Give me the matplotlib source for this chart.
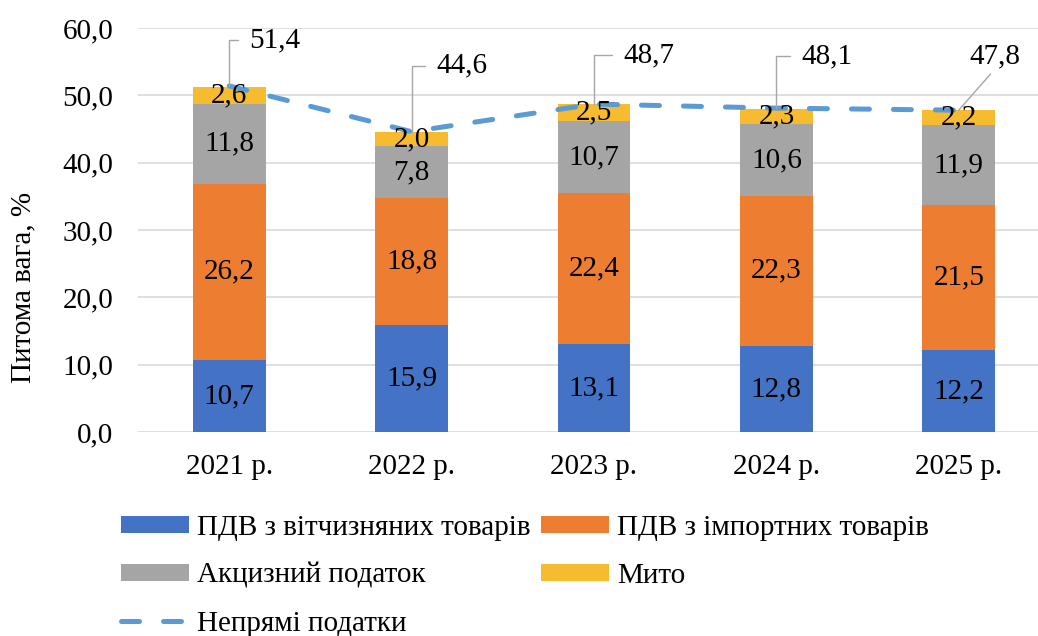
import matplotlib
matplotlib.use('Agg')
import matplotlib.pyplot as plt
from matplotlib.font_manager import FontProperties
import numpy as np

FONT = 'Liberation Serif'

years = ['2021 р.', '2022 р.', '2023 р.', '2024 р.', '2025 р.']
vat_domestic = [10.7, 15.9, 13.1, 12.8, 12.2]
vat_import = [26.2, 18.8, 22.4, 22.3, 21.5]
excise = [11.8, 7.8, 10.7, 10.6, 11.9]
duty = [2.6, 2.0, 2.5, 2.3, 2.2]
indirect = [51.4, 44.6, 48.7, 48.1, 47.8]

series_names = ['ПДВ з вітчизняних товарів', 'ПДВ з імпортних товарів',
                'Акцизний податок', 'Мито']
line_name = 'Непрямі податки'
colors = ['#4472C4', '#ED7D31', '#A5A5A5', '#F6BB2E']
line_color = '#5B9BD5'

# label offsets (pixels) for the total line labels
label_offsets = [(20, -46), (25, -66), (29, -49), (25, -52), (36, -54)]

fs = 21
fp = FontProperties(family=FONT, size=fs)


def fmt(v):
    return f'{v:.1f}'.replace('.', ',')


fig = plt.figure(figsize=(10.38, 6.36), dpi=100)
ax = fig.add_axes([138 / 1038, 1 - 432 / 636, (1050 - 138) / 1038, (432 - 28) / 636])

x = np.arange(len(years))
bottom = np.zeros(len(years))
bars = []
for vals, name, c in zip([vat_domestic, vat_import, excise, duty], series_names, colors):
    b = ax.bar(x, vals, width=0.4, bottom=bottom, color=c, label=name, zorder=2)
    bars.append(b)
    for xi, bi, v in zip(x, bottom, vals):
        ax.text(xi, bi + v / 2, fmt(v), ha='center', va='center',
                fontproperties=fp, zorder=5)
    bottom = bottom + np.array(vals)

line, = ax.plot(x, indirect, color=line_color, lw=3.6, dashes=(3.6, 4.8),
                dash_capstyle='round', label=line_name, zorder=4)

for i, (xi, v) in enumerate(zip(x, indirect)):
    dx, dy = label_offsets[i]
    if i == len(x) - 1:
        ax.annotate(fmt(v), xy=(xi, v), xytext=(dx, -dy), textcoords='offset pixels',
                    ha='center', va='center', fontproperties=fp, zorder=6,
                    arrowprops=dict(arrowstyle='-', color='#A6A6A6', lw=1,
                                    relpos=(0.5, 0), shrinkA=2, shrinkB=0))
    else:
        ax.annotate(fmt(v), xy=(xi, v), xytext=(dx, -dy), textcoords='offset pixels',
                    ha='left', va='center', fontproperties=fp, zorder=6,
                    arrowprops=dict(arrowstyle='-', color='#A6A6A6', lw=1,
                                    connectionstyle='angle,angleA=180,angleB=90,rad=0',
                                    relpos=(0, 0.5), shrinkA=6, shrinkB=0))

ax.set_xlim(-0.5, len(years) - 0.5)
ax.set_ylim(0, 60)
yt = np.arange(0, 61, 10)
ax.set_yticks(yt)
ax.set_yticklabels([fmt(t) for t in yt], fontproperties=fp)
ax.set_xticks(x)
ax.set_xticklabels(years, fontproperties=fp)
ax.tick_params(axis='both', length=0)
ax.tick_params(axis='y', pad=18)
ax.tick_params(axis='x', pad=16)
ax.grid(axis='y', color='#D9D9D9', lw=1.2, zorder=0)
ax.set_axisbelow(True)
for s in ax.spines.values():
    s.set_visible(False)

fig.text(23 / 1038, 1 - 287 / 636, 'Питома вага, %', rotation=90,
         ha='center', va='center', fontproperties=fp)

handles = [bars[0], bars[2], line, bars[1], bars[3]]
labels = [series_names[0], series_names[2], line_name, series_names[1], series_names[3]]
fig.legend(handles, labels, ncol=2, loc='upper left',
           bbox_to_anchor=(121 / 1038, 1 - 515 / 636), frameon=False, prop=fp,
           handlelength=2.33, handleheight=0.5, handletextpad=0.28,
           columnspacing=0.35, labelspacing=0.75, borderaxespad=0, borderpad=0)

fig.savefig('out.png', dpi=100)
